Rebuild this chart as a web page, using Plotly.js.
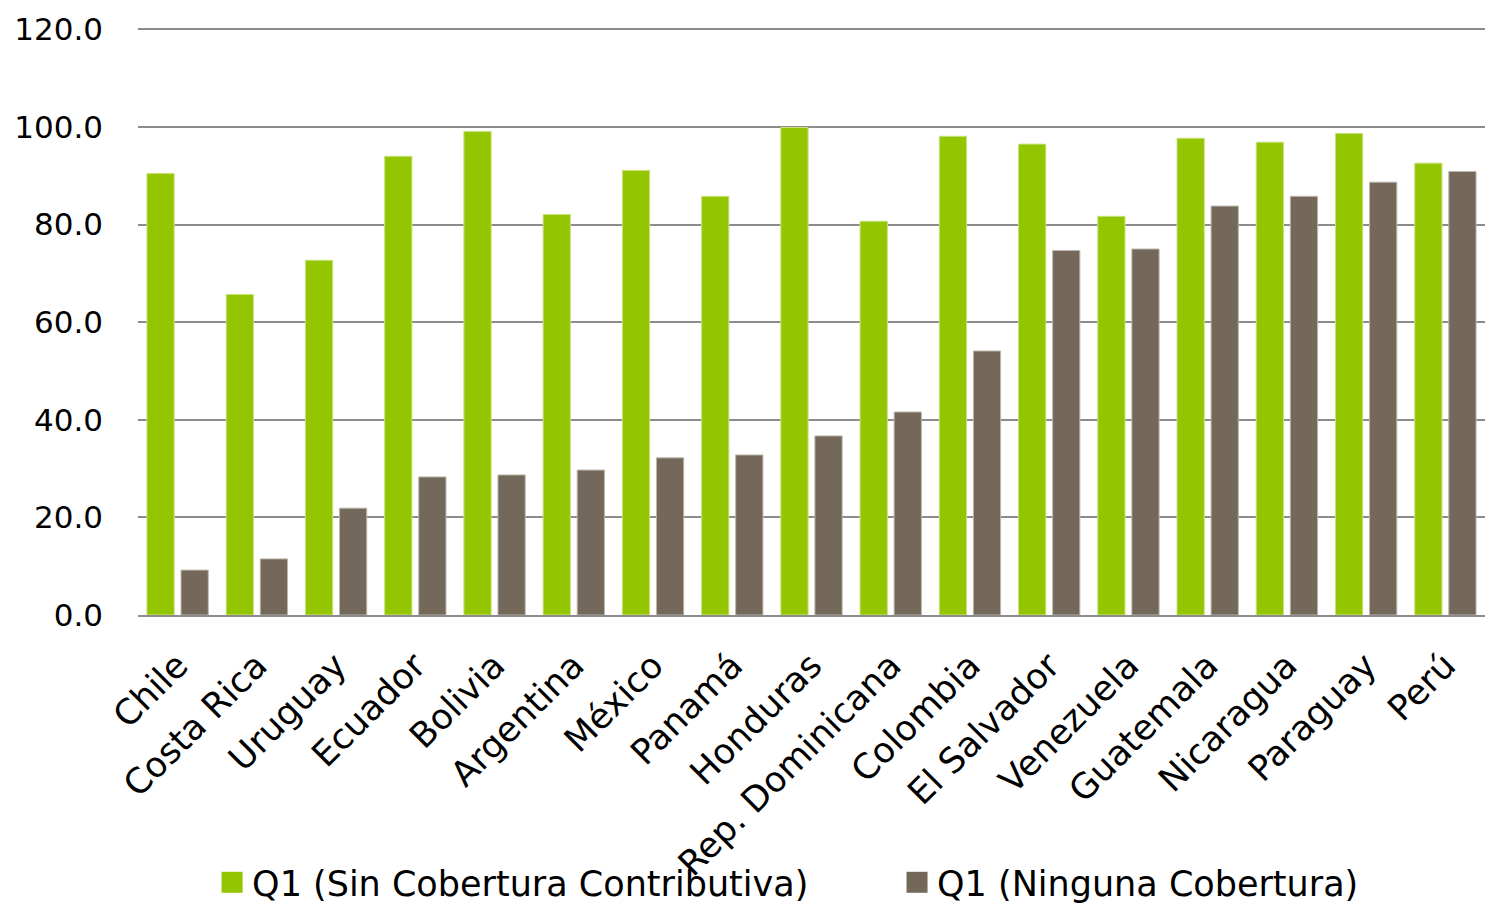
<!DOCTYPE html>
<html>
<head>
<meta charset="utf-8">
<script src="https://cdn.plot.ly/plotly-3.0.1.min.js"></script>
<style>
html,body{margin:0;padding:0;background:#fff;}
#chart{width:1485px;height:903px;}
</style>
</head>
<body>
<div id="chart"></div>
<script>
const countries = ["Chile","Costa Rica","Uruguay","Ecuador","Bolivia","Argentina","México","Panamá","Honduras","Rep. Dominicana","Colombia","El Salvador","Venezuela","Guatemala","Nicaragua","Paraguay","Perú"];
const sinContributiva = [90.5,65.7,72.7,94.0,99.1,82.1,91.1,85.8,99.9,80.7,98.1,96.5,81.7,97.7,96.9,98.7,92.6];
const ningunaCobertura = [9.2,11.5,21.9,28.3,28.7,29.7,32.2,32.8,36.7,41.6,54.1,74.7,75.0,83.8,85.8,88.7,90.9];
const seriesNames = ["Q1 (Sin Cobertura Contributiva)","Q1 (Ninguna Cobertura)"];
const yTicks = [0,20,40,60,80,100,120];

const FONT = "DejaVu Sans, sans-serif";
const yf = {family:FONT, size:31, color:"#000"};
const xf = {family:FONT, size:35, color:"#000"};
const traces = [
  {type:"bar", x:countries, y:sinContributiva, name:seriesNames[0], legend:"legend",
   marker:{color:"#93C500", line:{color:"#C9E27F", width:1}}},
  {type:"bar", x:countries, y:ningunaCobertura, name:seriesNames[1], legend:"legend2",
   marker:{color:"#736859", line:{color:"#BDB6AC", width:1}}}
];
const legBase = {orientation:"h", xanchor:"left", y:-0.455, yanchor:"middle",
                 font:xf, itemwidth:30, bgcolor:"rgba(0,0,0,0)"};
const layout = {
  width:1485, height:903,
  margin:{l:138, r:0, t:27, b:288, autoexpand:false},
  paper_bgcolor:"#fff", plot_bgcolor:"#fff",
  font:xf,
  barmode:"group", bargap:0.14, bargroupgap:0.2,
  showlegend:true,
  legend:Object.assign({}, legBase, {x:0.055}),
  legend2:Object.assign({}, legBase, {x:0.5635}),
  xaxis:{tickangle:-45, showgrid:false, showline:true, linecolor:"#8C8C8C", linewidth:2,
         ticks:"", ticklabelstandoff:14, tickfont:xf, automargin:false},
  yaxis:{range:[0,120.5], tickvals:yTicks, tickformat:".1f", showgrid:true, gridcolor:"#8C8C8C",
         gridwidth:2, zeroline:false, showline:false, ticks:"", ticklabelstandoff:34,
         tickfont:yf, automargin:false}
};
Plotly.newPlot("chart", traces, layout, {displayModeBar:false, staticPlot:true}).then(function(gd){
  gd.querySelectorAll(".legendpoints path").forEach(function(p){
    p.setAttribute("d", "M10.5,10.5H-10.5V-10.5H10.5Z");
    p.style.strokeWidth = "0";
  });
});
</script>
</body>
</html>
